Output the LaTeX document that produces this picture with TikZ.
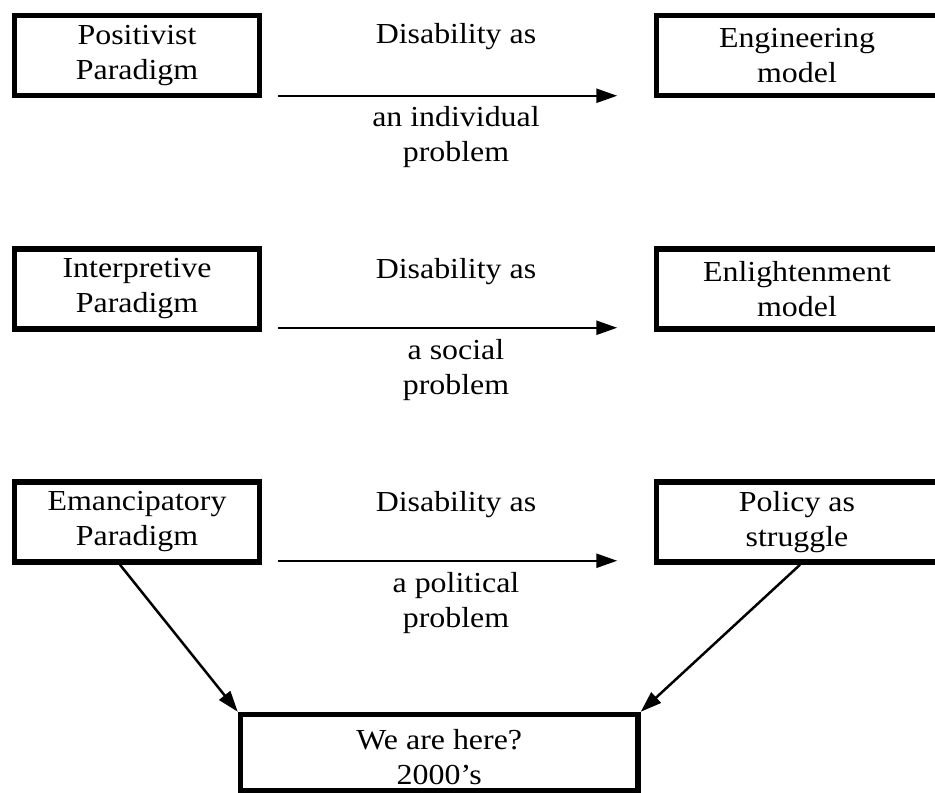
\documentclass[tikz,border=0pt]{standalone}
\usepackage{fontspec}
\setmainfont[FakeStretch=1.1]{Liberation Serif}
\usetikzlibrary{arrows.meta}
\begin{document}
\begin{tikzpicture}[x=1pt,y=-1pt,
  txt/.style={font=\fontsize{29}{35}\selectfont, align=center},
  box/.style={txt, draw, line width=5.5pt, minimum width=245pt, minimum height=80pt, inner sep=0pt},
  rbox/.style={box, minimum width=281pt},
  lbl/.style={txt, inner sep=0pt},
  arr/.style={line width=2.5pt, -{Triangle[length=21pt,width=14pt]}}]
\useasboundingbox (0,0) rectangle (935,793);
% row 1
\node[box]  (pos) at (137,55.5) {Positivist\\Paradigm};
\node[rbox] (eng) at (797,55.5) {Engineering\\model};
\node[lbl]  (d1)  at (456,37) {Disability as};
\node[lbl]  (p1)  at (456,137) {an individual\\problem};
\draw[arr] ([xshift=15.5pt,yshift=2.5pt]pos.south east) -- ([xshift=-36.5pt,yshift=2.5pt]eng.south west);
% row 2
\node[box]  (int) at (137,289) {Interpretive\\Paradigm};
\node[rbox] (enl) at (797,289) {Enlightenment\\model};
\node[lbl]  (d2)  at (456,272) {Disability as};
\node[lbl]  (p2)  at (456,370) {a social\\problem};
\draw[arr] ([xshift=15.5pt,yshift=4pt]int.south east) -- ([xshift=-36.5pt,yshift=4pt]enl.south west);
% row 3
\node[box]  (ema) at (137,522) {Emancipatory\\Paradigm};
\node[rbox] (pol) at (797,522) {Policy as\\struggle};
\node[lbl]  (d3)  at (456,505) {Disability as};
\node[lbl]  (p3)  at (456,603) {a political\\problem};
\draw[arr] ([xshift=15.5pt,yshift=4pt]ema.south east) -- ([xshift=-36.5pt,yshift=4pt]pol.south west);
% bottom
\node[box, minimum width=397.5pt, minimum height=76pt] (we) at (439.25,752.5) {};
\node[lbl] (wet) at (439.25,757.5) {We are here?\\2000’s};
\draw[arr] ([xshift=-17pt]ema.south) -- (we.north west);
\draw[arr] ([xshift=3pt]pol.south) -- (we.north east);
\end{tikzpicture}
\end{document}
